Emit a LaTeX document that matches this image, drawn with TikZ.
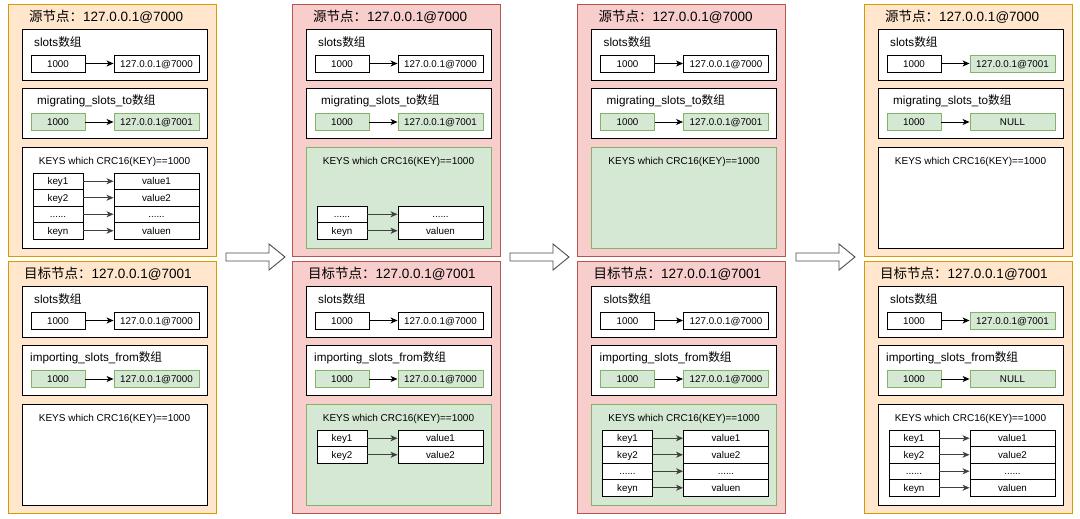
\documentclass[tikz,border=0pt]{standalone}
\usepackage{fontspec}
\setmainfont{Liberation Sans}
\newfontfamily\cjk{Noto Sans CJK SC}
\usetikzlibrary{arrows.meta}
\definecolor{ofill}{HTML}{FFE6CC}
\definecolor{odraw}{HTML}{D79B00}
\definecolor{rfill}{HTML}{F8CECC}
\definecolor{rdraw}{HTML}{B85450}
\definecolor{gfill}{HTML}{D5E8D4}
\definecolor{gdraw}{HTML}{82B366}
\tikzset{
  panelO/.style={draw=odraw, fill=ofill, line width=0.9pt},
  panelR/.style={draw=rdraw, fill=rfill, line width=0.9pt},
  box/.style={draw=black, fill=white, line width=0.9pt},
  gbox/.style={draw=gdraw, fill=gfill, line width=0.9pt},
  cell/.style={draw=black, fill=white, line width=0.9pt, inner sep=0pt, minimum height=17pt,
    text height=8pt, text depth=1pt, font=\fontsize{9.8}{10}\selectfont},
  gcell/.style={cell, draw=gdraw, fill=gfill},
  kcell/.style={cell, minimum height=16.5pt},
  arr/.style={-{Stealth[length=7pt,width=6pt,inset=2pt]}, line width=0.9pt, draw=black, fill=black},
  karr/.style={arr, draw=black!75, fill=black},
  ttl/.style={anchor=west, font=\fontsize{13.5}{14}\selectfont, inner sep=0pt},
  sub/.style={anchor=west, font=\fontsize{11.7}{12}\selectfont, inner sep=0pt},
  keyst/.style={font=\fontsize{10}{11}\selectfont, inner sep=0pt},
  blockarrow/.style={draw=black!70, fill=white, line width=0.9pt}
}
% #1 prefix, #2 y center, #3 left style, #4 left text, #5 right style, #6 right text
\newcommand{\pairrow}[6]{%
  \node[#3, minimum width=54pt] (#1L) at (58,#2) {#4};
  \node[#5, minimum width=85pt] (#1R) at (156.5,#2) {#6};
  \draw[arr] (#1L) -- (#1R);}
% #1 prefix, #2 y center, #3 key, #4 value
\newcommand{\keyrow}[4]{%
  \node[kcell, minimum width=50pt] (#1L) at (58,#2) {#3};
  \node[kcell, minimum width=85pt] (#1R) at (156.5,#2) {#4};
  \draw[karr] (#1L) -- (#1R);}
\begin{document}
\begin{tikzpicture}[x=1pt,y=-1pt]
\useasboundingbox (0,0) rectangle (1080,519);
\fill[white] (0,0) rectangle (1080,519);

% ================= Panel 1 =================
\begin{scope}[shift={(0,0)}]
\draw[panelO] (8,4.5) rectangle (216,256.5);
\node[ttl] (p1sT) at (29,17) {{\cjk 源节点：}127.0.0.1@7000};
\draw[box] (22,29) rectangle (207,80);
\node[sub] (p1sA) at (34,42) {slots{\cjk 数组}};
\pairrow{p1sa}{63.5}{cell}{1000}{cell}{127.0.0.1@7000}
\draw[box] (22,88) rectangle (207,138);
\node[sub] (p1sB) at (37,101) {migrating\_slots\_to{\cjk 数组}};
\pairrow{p1sb}{122}{gcell}{1000}{gcell}{127.0.0.1@7001}
\draw[box] (22,147) rectangle (207,248);
\node[keyst] (p1sK) at (114.5,162) {KEYS which CRC16(KEY)==1000};
\keyrow{p1s1}{181.25}{key1}{value1}
\keyrow{p1s2}{197.75}{key2}{value2}
\keyrow{p1s3}{214.25}{......}{......}
\keyrow{p1s4}{230.75}{keyn}{valuen}
\end{scope}
\begin{scope}[shift={(0,257)}]
\draw[panelO] (8,4.5) rectangle (216,256.5);
\node[ttl] (p1tT) at (24,17) {{\cjk 目标节点：}127.0.0.1@7001};
\draw[box] (22,29) rectangle (207,80);
\node[sub] (p1tA) at (34,42) {slots{\cjk 数组}};
\pairrow{p1ta}{63.5}{cell}{1000}{cell}{127.0.0.1@7000}
\draw[box] (22,88) rectangle (207,138);
\node[sub] (p1tB) at (30,101) {importing\_slots\_from{\cjk 数组}};
\pairrow{p1tb}{122}{gcell}{1000}{gcell}{127.0.0.1@7000}
\draw[box] (22,147) rectangle (207,248);
\node[keyst] (p1tK) at (114.5,162) {KEYS which CRC16(KEY)==1000};
\end{scope}

% ================= Panel 2 =================
\begin{scope}[shift={(284,0)}]
\draw[panelR] (8,4.5) rectangle (216,256.5);
\node[ttl] (p2sT) at (29,17) {{\cjk 源节点：}127.0.0.1@7000};
\draw[box] (22,29) rectangle (207,80);
\node[sub] (p2sA) at (34,42) {slots{\cjk 数组}};
\pairrow{p2sa}{63.5}{cell}{1000}{cell}{127.0.0.1@7000}
\draw[box] (22,88) rectangle (207,138);
\node[sub] (p2sB) at (37,101) {migrating\_slots\_to{\cjk 数组}};
\pairrow{p2sb}{122}{gcell}{1000}{gcell}{127.0.0.1@7001}
\draw[gbox] (22,147) rectangle (207,248);
\node[keyst] (p2sK) at (114.5,162) {KEYS which CRC16(KEY)==1000};
\keyrow{p2s3}{214.25}{......}{......}
\keyrow{p2s4}{230.75}{keyn}{valuen}
\end{scope}
\begin{scope}[shift={(284,257)}]
\draw[panelR] (8,4.5) rectangle (216,256.5);
\node[ttl] (p2tT) at (24,17) {{\cjk 目标节点：}127.0.0.1@7001};
\draw[box] (22,29) rectangle (207,80);
\node[sub] (p2tA) at (34,42) {slots{\cjk 数组}};
\pairrow{p2ta}{63.5}{cell}{1000}{cell}{127.0.0.1@7000}
\draw[box] (22,88) rectangle (207,138);
\node[sub] (p2tB) at (30,101) {importing\_slots\_from{\cjk 数组}};
\pairrow{p2tb}{122}{gcell}{1000}{gcell}{127.0.0.1@7000}
\draw[gbox] (22,147) rectangle (207,248);
\node[keyst] (p2tK) at (114.5,162) {KEYS which CRC16(KEY)==1000};
\keyrow{p2t1}{181.25}{key1}{value1}
\keyrow{p2t2}{197.75}{key2}{value2}
\end{scope}

% ================= Panel 3 =================
\begin{scope}[shift={(569.5,0)}]
\draw[panelR] (8,4.5) rectangle (216,256.5);
\node[ttl] (p3sT) at (29,17) {{\cjk 源节点：}127.0.0.1@7000};
\draw[box] (22,29) rectangle (207,80);
\node[sub] (p3sA) at (34,42) {slots{\cjk 数组}};
\pairrow{p3sa}{63.5}{cell}{1000}{cell}{127.0.0.1@7000}
\draw[box] (22,88) rectangle (207,138);
\node[sub] (p3sB) at (37,101) {migrating\_slots\_to{\cjk 数组}};
\pairrow{p3sb}{122}{gcell}{1000}{gcell}{127.0.0.1@7001}
\draw[gbox] (22,147) rectangle (207,248);
\node[keyst] (p3sK) at (114.5,162) {KEYS which CRC16(KEY)==1000};
\end{scope}
\begin{scope}[shift={(569.5,257)}]
\draw[panelR] (8,4.5) rectangle (216,256.5);
\node[ttl] (p3tT) at (24,17) {{\cjk 目标节点：}127.0.0.1@7001};
\draw[box] (22,29) rectangle (207,80);
\node[sub] (p3tA) at (34,42) {slots{\cjk 数组}};
\pairrow{p3ta}{63.5}{cell}{1000}{cell}{127.0.0.1@7000}
\draw[box] (22,88) rectangle (207,138);
\node[sub] (p3tB) at (30,101) {importing\_slots\_from{\cjk 数组}};
\pairrow{p3tb}{122}{gcell}{1000}{gcell}{127.0.0.1@7000}
\draw[gbox] (22,147) rectangle (207,248);
\node[keyst] (p3tK) at (114.5,162) {KEYS which CRC16(KEY)==1000};
\keyrow{p3t1}{181.25}{key1}{value1}
\keyrow{p3t2}{197.75}{key2}{value2}
\keyrow{p3t3}{214.25}{......}{......}
\keyrow{p3t4}{230.75}{keyn}{valuen}
\end{scope}

% ================= Panel 4 =================
\begin{scope}[shift={(856,0)}]
\draw[panelO] (8,4.5) rectangle (216,256.5);
\node[ttl] (p4sT) at (29,17) {{\cjk 源节点：}127.0.0.1@7000};
\draw[box] (22,29) rectangle (207,80);
\node[sub] (p4sA) at (34,42) {slots{\cjk 数组}};
\pairrow{p4sa}{63.5}{cell}{1000}{gcell}{127.0.0.1@7001}
\draw[box] (22,88) rectangle (207,138);
\node[sub] (p4sB) at (37,101) {migrating\_slots\_to{\cjk 数组}};
\pairrow{p4sb}{122}{gcell}{1000}{gcell}{NULL}
\draw[box] (22,147) rectangle (207,248);
\node[keyst] (p4sK) at (114.5,162) {KEYS which CRC16(KEY)==1000};
\end{scope}
\begin{scope}[shift={(856,257)}]
\draw[panelO] (8,4.5) rectangle (216,256.5);
\node[ttl] (p4tT) at (24,17) {{\cjk 目标节点：}127.0.0.1@7001};
\draw[box] (22,29) rectangle (207,80);
\node[sub] (p4tA) at (34,42) {slots{\cjk 数组}};
\pairrow{p4ta}{63.5}{cell}{1000}{gcell}{127.0.0.1@7001}
\draw[box] (22,88) rectangle (207,138);
\node[sub] (p4tB) at (30,101) {importing\_slots\_from{\cjk 数组}};
\pairrow{p4tb}{122}{gcell}{1000}{gcell}{NULL}
\draw[box] (22,147) rectangle (207,248);
\node[keyst] (p4tK) at (114.5,162) {KEYS which CRC16(KEY)==1000};
\keyrow{p4t1}{181.25}{key1}{value1}
\keyrow{p4t2}{197.75}{key2}{value2}
\keyrow{p4t3}{214.25}{......}{......}
\keyrow{p4t4}{230.75}{keyn}{valuen}
\end{scope}

% ================= Block arrows =================
\foreach \dx in {0,284,570} {
  \draw[blockarrow, shift={(\dx,0)}] (226,253) -- (269,253) -- (269,244) -- (285,257)
    -- (269,270) -- (269,261) -- (226,261) -- cycle;
}
\end{tikzpicture}
\end{document}
